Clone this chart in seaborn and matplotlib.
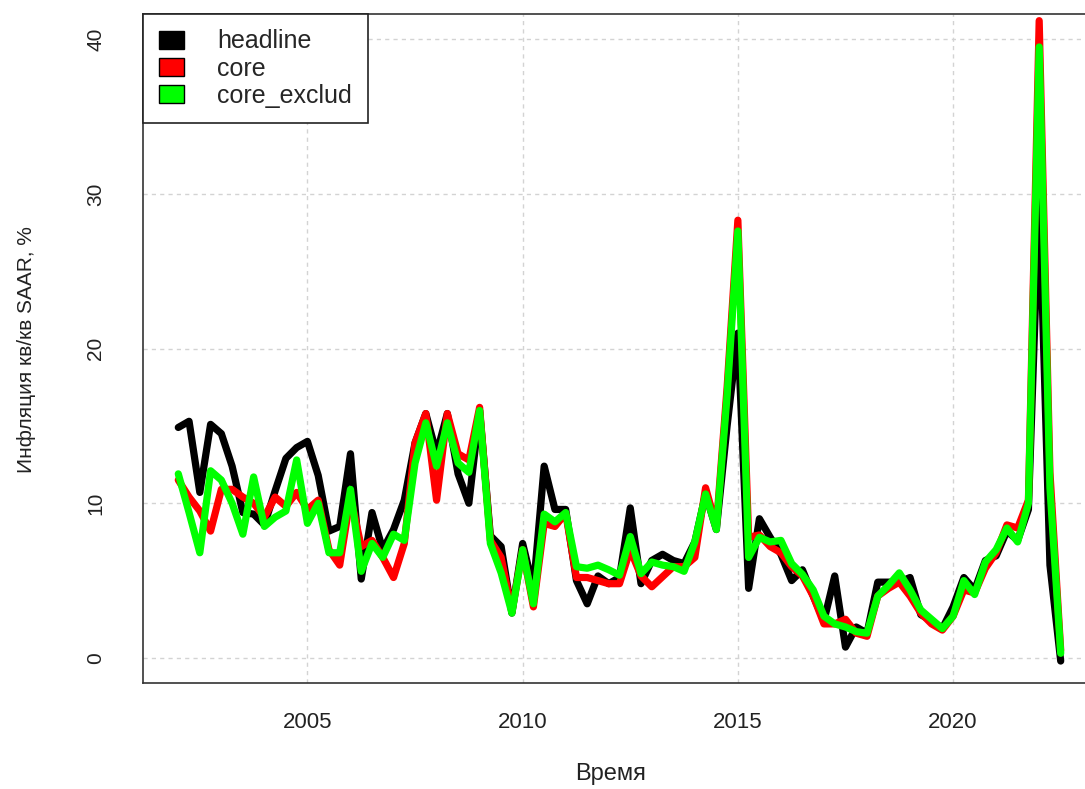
import numpy as np
import pandas as pd
import matplotlib
matplotlib.use("Agg")
import matplotlib.pyplot as plt
import seaborn as sns
from matplotlib.patches import Patch

# quarterly time index, 2002Q1 .. 2022Q3
quarters = np.arange(2002, 2022.51, 0.25)

headline = [14.9, 15.3, 10.7, 15.1,
            14.5, 12.4, 9.4, 9.3,
            8.6, 10.8, 12.9, 13.6,
            14.0, 11.8, 8.2, 8.5,
            13.2, 5.1, 9.4, 7.0,
            8.3, 10.2, 13.9, 15.8,
            13.2, 15.8, 11.9, 10.0,
            16.0, 7.9, 7.2, 2.9,
            7.4, 4.5, 12.4, 9.6,
            9.6, 5.0, 3.5, 5.3,
            4.8, 5.2, 9.7, 4.8,
            6.3, 6.7, 6.3, 6.1,
            7.5, 10.6, 8.3, 15.0,
            21.0, 4.5, 9.0, 7.8,
            6.7, 5.0, 5.7, 4.0,
            2.4, 5.3, 0.7, 2.0,
            1.6, 4.9, 4.9, 4.9,
            5.2, 2.8, 2.4, 1.9,
            3.3, 5.2, 4.4, 6.3,
            6.6, 8.2, 7.6, 9.6,
            30.0, 6.0, -0.2]

core = [11.5, 10.4, 9.5, 8.2,
        10.9, 10.9, 10.4, 10.0,
        9.1, 10.4, 9.8, 10.7,
        9.6, 10.2, 7.0, 6.0,
        10.4, 7.2, 7.6, 6.5,
        5.2, 7.4, 13.9, 15.8,
        10.2, 15.8, 13.2, 12.8,
        16.2, 7.6, 6.5, 3.0,
        7.0, 3.3, 8.7, 8.5,
        9.35, 5.2, 5.2, 5.0,
        4.8, 4.8, 7.0, 5.3,
        4.6, 5.25, 5.9, 5.9,
        6.5, 11.0, 8.5, 17.5,
        28.3, 7.8, 7.95, 7.2,
        6.8, 5.9, 5.3, 4.0,
        2.2, 2.2, 2.5, 1.6,
        1.4, 4.0, 4.5, 4.9,
        4.0, 2.9, 2.2, 1.8,
        2.7, 4.4, 4.2, 5.8,
        6.8, 8.6, 8.4, 10.2,
        41.2, 12.0, 0.5]

core_exclud = [11.9, 9.4, 6.8, 12.1,
               11.5, 10.0, 8.0, 11.7,
               8.5, 9.1, 9.5, 12.8,
               8.7, 10.0, 6.8, 6.8,
               10.9, 5.6, 7.4, 6.5,
               8.0, 7.6, 12.6, 15.2,
               12.4, 15.2, 12.6, 12.0,
               16.0, 7.4, 5.5, 2.9,
               7.0, 3.5, 9.3, 8.8,
               9.4, 5.9, 5.8, 6.0,
               5.7, 5.35, 7.85, 5.45,
               6.2, 6.0, 5.9, 5.6,
               7.5, 10.6, 8.3, 17.0,
               27.6, 6.5, 7.8, 7.5,
               7.6, 6.1, 5.4, 4.4,
               2.7, 2.2, 2.0, 1.7,
               1.6, 4.0, 4.7, 5.5,
               4.4, 3.1, 2.5, 1.9,
               2.7, 5.0, 4.1, 6.2,
               7.0, 8.4, 7.5, 10.0,
               39.5, 11.0, 0.3]

series_names = ["headline", "core", "core_exclud"]
colors = {"headline": "black", "core": "#ff0000", "core_exclud": "#00ff00"}

df = pd.DataFrame({"time": quarters, "headline": headline,
                   "core": core, "core_exclud": core_exclud})
long = df.melt("time", var_name="series", value_name="value")

sns.set_style("white")
plt.rcParams["font.family"] = ["Liberation Sans", "DejaVu Sans"]

fig = plt.figure(figsize=(10.85, 7.89), dpi=100)
ax = fig.add_axes([143 / 1085, 106 / 789, (1096 - 143) / 1085, (775 - 106) / 789])

sns.lineplot(data=long, x="time", y="value", hue="series", hue_order=series_names,
             palette=colors, linewidth=5.2, legend=False, sort=False, ax=ax)

ax.set_xlim(2001.18, 2023.32)
ax.set_ylim(-1.62, 41.63)
ax.set_xticks([2005, 2010, 2015, 2020])
ax.set_yticks([0, 10, 20, 30, 40])
ax.grid(True, color="lightgray", linestyle=(0, (3, 3)), linewidth=1)
ax.set_axisbelow(True)

for s in ax.spines.values():
    s.set_color("#333333")
    s.set_linewidth(1.2)

ax.tick_params(axis="both", direction="out", length=12, width=1.2, color="#333333",
               labelcolor="#222222")
ax.tick_params(axis="x", pad=9, labelsize=16)
ax.tick_params(axis="y", pad=15, labelsize=15)
plt.setp(ax.get_yticklabels(), rotation=90, va="center")

ax.set_xlabel("Время", fontsize=17, color="#222222")
ax.set_ylabel("Инфляция кв/кв SAAR, %", fontsize=15, color="#222222")
ax.xaxis.set_label_coords(0.491, -0.120)
ax.yaxis.set_label_coords(-0.112, 0.498)

handles = [Patch(facecolor=colors[n], edgecolor="black", label=n) for n in series_names]
leg = ax.legend(handles=handles, loc="upper left", bbox_to_anchor=(0, 1),
                borderaxespad=0, frameon=True, fancybox=False, fontsize=18,
                handlelength=1.0, handleheight=0.7, handletextpad=1.35,
                borderpad=0.62, labelspacing=0.12)
leg.get_frame().set_edgecolor("#222222")
leg.get_frame().set_linewidth(1.2)
leg.get_frame().set_alpha(1)

fig.savefig("out.png", dpi=100)
